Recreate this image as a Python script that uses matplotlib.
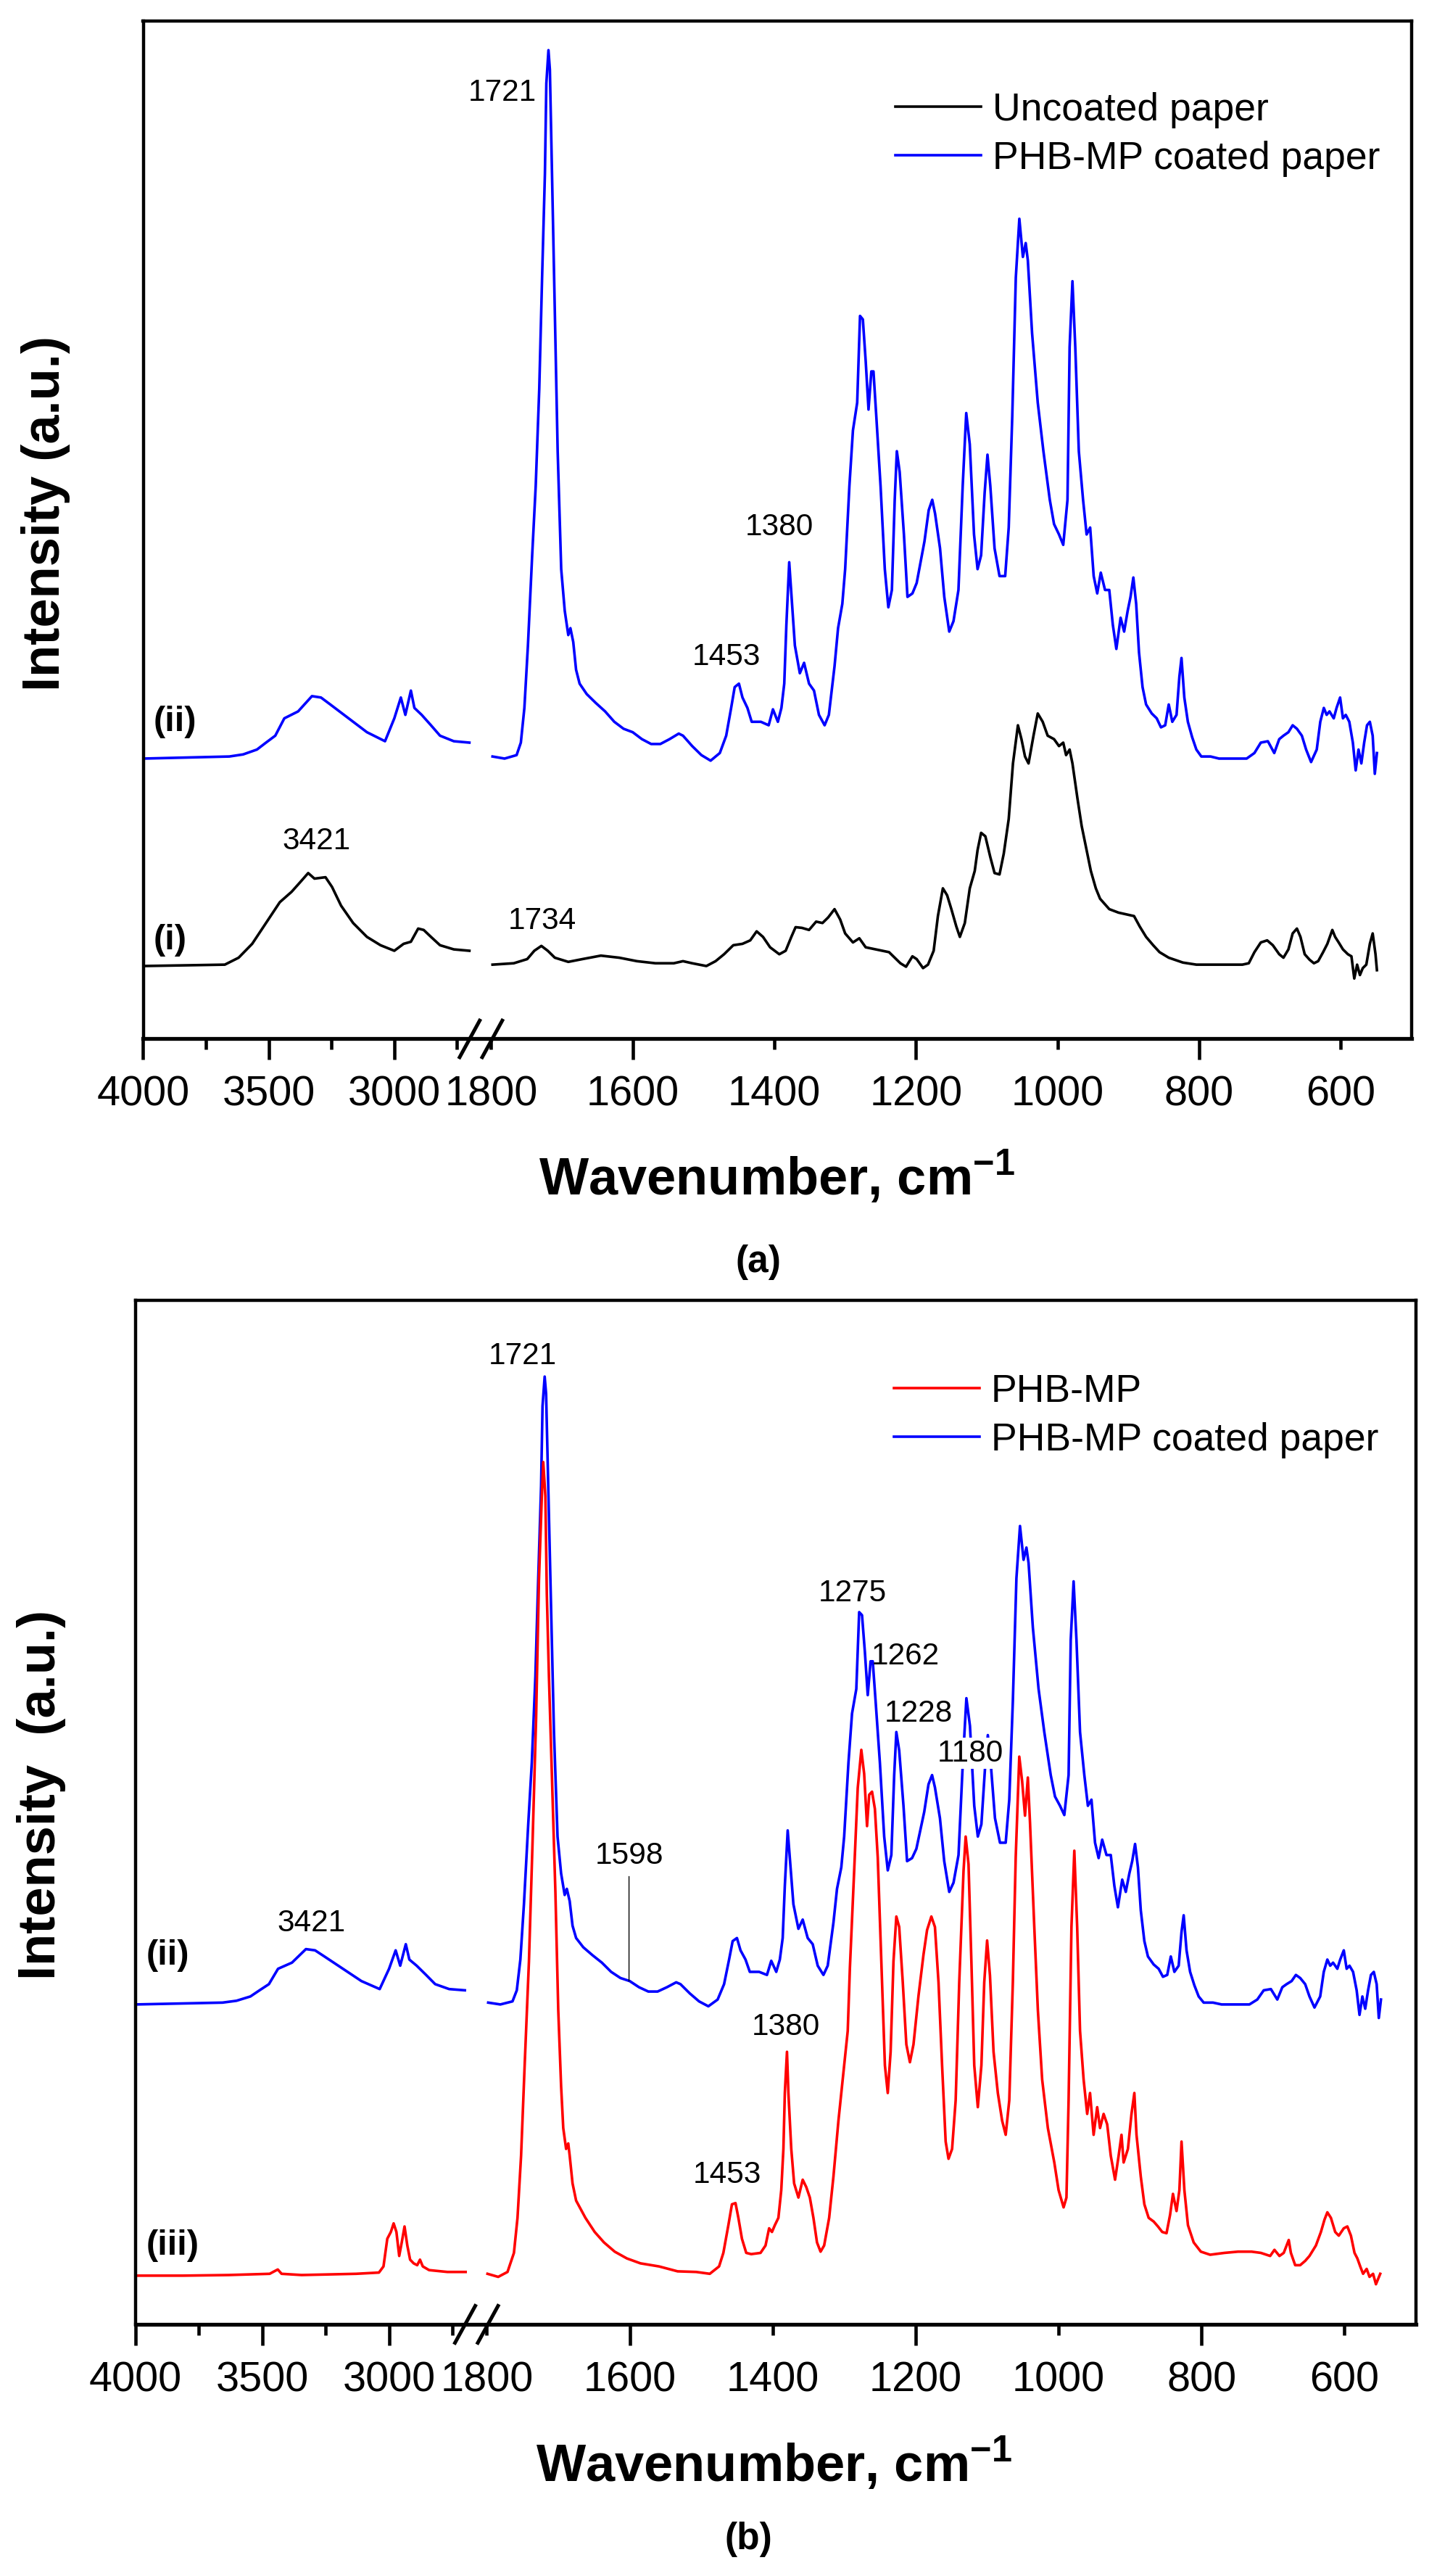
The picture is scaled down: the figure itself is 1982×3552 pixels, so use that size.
import numpy as np
import matplotlib
matplotlib.use('Agg')
import matplotlib.pyplot as plt
from matplotlib.ticker import FixedLocator, FuncFormatter

plt.rcParams['font.family'] = ['Liberation Sans', 'DejaVu Sans']
plt.rcParams['mathtext.fontset'] = 'custom'
plt.rcParams['mathtext.rm'] = 'Liberation Sans'
plt.rcParams['mathtext.bf'] = 'Liberation Sans:bold'

# ---- spectra (wavenumber, cm-1 / intensity, a.u.) ----
# each spectrum is split in two: 4000-2700 region and 1800-550 region

# (i) uncoated paper
uncoated_wn_hi = [4000, 3675, 3620, 3566, 3511, 3456, 3409, 3372, 3343, 3318,
                  3274, 3248, 3212, 3164, 3109, 3055, 3000, 2963, 2934, 2905,
                  2883, 2854, 2818, 2763, 2701]
uncoated_ab_hi = [0.0, 0.2, 1.2, 3.2, 6.2, 9.2, 10.7, 12.2, 13.4, 12.6,
                  12.8, 11.4, 8.7, 6.2, 4.2, 3.0, 2.2, 3.2, 3.5, 5.4,
                  5.2, 4.2, 3.0, 2.4, 2.2]
uncoated_wn_lo = [1798, 1768, 1749, 1739, 1729, 1720, 1710, 1691, 1671, 1645,
                  1619, 1594, 1568, 1542, 1529, 1516, 1496, 1483, 1471, 1458,
                  1445, 1434, 1425, 1416, 1406, 1393, 1384, 1376, 1370, 1361,
                  1351, 1341, 1332, 1324, 1315, 1307, 1300, 1289, 1280, 1271,
                  1257, 1248, 1238, 1230, 1222, 1214, 1205, 1199, 1190, 1183,
                  1175, 1169, 1162, 1156, 1150, 1143, 1138, 1131, 1124, 1117,
                  1113, 1108, 1102, 1095, 1089, 1082, 1076, 1069, 1063, 1056,
                  1051, 1046, 1041, 1034, 1028, 1021, 1014, 1005, 998, 992,
                  988, 983, 979, 972, 966, 959, 953, 946, 940, 927,
                  914, 901, 892, 884, 875, 865, 856, 843, 823, 804,
                  784, 759, 739, 730, 722, 713, 704, 696, 687, 681,
                  674, 668, 662, 657, 651, 644, 638, 632, 625, 619,
                  612, 608, 603, 597, 590, 585, 581, 577, 573, 569,
                  564, 559, 555, 551, 549]
uncoated_ab_lo = [0.2, 0.4, 1.0, 2.2, 2.9, 2.2, 1.2, 0.6, 1.0, 1.5,
                  1.2, 0.7, 0.4, 0.4, 0.7, 0.4, 0.0, 0.7, 1.7, 3.0,
                  3.2, 3.7, 5.0, 4.2, 2.7, 1.7, 2.2, 4.2, 5.6, 5.5,
                  5.2, 6.4, 6.2, 7.0, 8.2, 6.7, 4.7, 3.4, 4.0, 2.7,
                  2.4, 2.2, 2.0, 1.2, 0.4, -0.1, 1.4, 1.0, -0.3, 0.2,
                  2.2, 7.2, 11.2, 10.2, 8.2, 5.7, 4.2, 6.2, 11.2, 13.7,
                  16.7, 19.2, 18.7, 15.7, 13.4, 13.2, 16.2, 21.2, 29.2, 34.7,
                  32.7, 30.2, 29.2, 33.2, 36.4, 35.2, 33.2, 32.7, 31.7, 32.2,
                  30.4, 31.2, 29.2, 24.2, 20.2, 16.7, 13.7, 11.2, 9.7, 8.2,
                  7.7, 7.4, 7.2, 5.7, 4.2, 3.0, 2.0, 1.2, 0.5, 0.2,
                  0.2, 0.2, 0.2, 0.4, 2.0, 3.4, 3.7, 3.0, 1.7, 1.2,
                  2.4, 4.7, 5.4, 4.2, 1.7, 0.9, 0.4, 0.7, 2.0, 3.2,
                  5.2, 4.2, 3.4, 2.4, 1.7, 1.4, -1.8, 0.2, -1.3, -0.3,
                  0.2, 3.2, 4.7, 1.7, -0.6]

# (ii) PHB-MP coated paper
coated_wn_hi = [4000, 3657, 3602, 3547, 3511, 3474, 3438, 3383, 3328, 3292,
                3255, 3182, 3109, 3037, 3000, 2974, 2956, 2934, 2920, 2891,
                2854, 2818, 2763, 2701]
coated_ab_hi = [0.0, 0.3, 0.6, 1.3, 2.3, 3.3, 5.8, 6.8, 9.0, 8.8,
                7.8, 5.8, 3.8, 2.5, 5.8, 8.8, 6.3, 9.8, 7.3, 6.3,
                4.8, 3.3, 2.5, 2.3]
coated_wn_lo = [1798, 1781, 1764, 1758, 1753, 1748, 1742, 1737, 1732, 1728,
                1724, 1722, 1719, 1717, 1714, 1710, 1706, 1701, 1696, 1691,
                1688, 1684, 1680, 1675, 1665, 1652, 1639, 1626, 1613, 1600,
                1587, 1574, 1561, 1548, 1535, 1529, 1516, 1503, 1490, 1477,
                1468, 1461, 1456, 1450, 1445, 1438, 1432, 1419, 1408, 1402,
                1395, 1390, 1386, 1383, 1379, 1375, 1371, 1364, 1358, 1351,
                1344, 1337, 1329, 1323, 1315, 1310, 1304, 1300, 1294, 1289,
                1283, 1279, 1275, 1271, 1267, 1263, 1260, 1256, 1250, 1244,
                1239, 1234, 1230, 1227, 1223, 1217, 1212, 1205, 1199, 1188,
                1182, 1177, 1173, 1166, 1160, 1153, 1147, 1140, 1134, 1129,
                1124, 1118, 1113, 1108, 1103, 1099, 1095, 1089, 1082, 1074,
                1069, 1064, 1059, 1054, 1049, 1045, 1042, 1036, 1028, 1020,
                1011, 1005, 998, 992, 986, 983, 979, 975, 970, 964,
                959, 954, 949, 944, 939, 933, 927, 922, 917, 911,
                906, 901, 897, 893, 889, 885, 880, 875, 867, 860,
                854, 848, 843, 838, 832, 828, 825, 821, 816, 810,
                804, 797, 784, 772, 752, 733, 722, 713, 703, 694,
                687, 681, 674, 668, 662, 655, 649, 642, 634, 629,
                624, 620, 616, 610, 606, 601, 597, 593, 588, 583,
                579, 575, 571, 567, 563, 559, 555, 552, 549]
coated_ab_lo = [0.3, 0.0, 0.5, 2.3, 7.3, 16.3, 29.3, 39.3, 53.3, 69.3,
                84.3, 97.3, 102.1, 99.3, 84.3, 64.3, 44.3, 27.3, 21.3, 17.8,
                18.8, 16.8, 12.8, 10.8, 9.3, 8.0, 6.8, 5.3, 4.3, 3.8,
                2.8, 2.1, 2.1, 2.8, 3.6, 3.3, 1.8, 0.5, -0.3, 0.8,
                3.3, 7.3, 10.3, 10.8, 8.8, 7.3, 5.3, 5.3, 4.8, 7.1,
                5.3, 7.3, 10.8, 19.3, 28.3, 22.3, 16.3, 12.3, 13.8, 10.8,
                9.8, 6.3, 4.8, 6.3, 13.3, 18.8, 22.3, 27.3, 39.3, 47.3,
                51.3, 63.8, 63.3, 57.3, 50.3, 55.8, 55.8, 49.3, 39.3, 27.3,
                21.8, 24.3, 37.3, 44.3, 41.3, 32.3, 23.3, 23.8, 25.3, 31.3,
                35.8, 37.3, 35.3, 30.3, 23.3, 18.3, 19.8, 24.3, 39.3, 49.8,
                45.3, 32.3, 27.3, 29.3, 38.3, 43.8, 39.3, 30.3, 26.3, 26.3,
                33.3, 49.3, 69.3, 77.8, 72.3, 74.3, 71.8, 61.3, 51.3, 44.3,
                37.3, 33.8, 32.3, 30.8, 37.3, 59.3, 68.8, 59.3, 44.3, 37.3,
                32.3, 33.3, 26.3, 23.8, 26.8, 24.3, 24.3, 19.3, 15.8, 20.3,
                18.3, 21.3, 23.3, 26.1, 22.3, 15.3, 10.3, 7.8, 6.5, 5.8,
                4.5, 4.8, 7.8, 5.3, 6.3, 11.8, 14.5, 8.8, 5.3, 3.1,
                1.3, 0.3, 0.3, 0.0, 0.0, 0.0, 0.8, 2.3, 2.5, 0.8,
                2.8, 3.3, 3.8, 4.8, 4.3, 3.3, 1.3, -0.5, 1.3, 5.3,
                7.3, 6.3, 6.8, 5.8, 7.3, 8.8, 5.8, 6.3, 5.3, 2.3,
                -1.7, 1.3, -0.7, 2.3, 4.8, 5.3, 3.3, -2.2, 0.8]

# (iii) PHB-MP
phb_wn_hi = [4000, 3813, 3633, 3471, 3453, 3439, 3424, 3345, 3237, 3130,
             3040, 3022, 3007, 2993, 2982, 2971, 2960, 2950, 2939, 2928,
             2917, 2903, 2889, 2878, 2867, 2842, 2770, 2698]
phb_ab_hi = [0.0, 0.0, 0.1, 0.3, 0.7, 1.0, 0.3, 0.1, 0.2, 0.3,
             0.5, 1.5, 6.0, 7.1, 8.5, 7.1, 3.2, 5.4, 8.0, 4.9,
             2.6, 2.0, 1.7, 2.6, 1.5, 0.9, 0.6, 0.6]
phb_wn_lo = [1799, 1784, 1771, 1762, 1757, 1752, 1747, 1741, 1736, 1731,
             1727, 1723, 1721, 1718, 1716, 1713, 1709, 1704, 1700, 1696,
             1693, 1689, 1686, 1684, 1680, 1675, 1662, 1649, 1636, 1621,
             1604, 1585, 1559, 1533, 1507, 1488, 1475, 1469, 1462, 1457,
             1452, 1448, 1443, 1437, 1430, 1417, 1410, 1405, 1401, 1397,
             1392, 1388, 1385, 1383, 1380, 1378, 1374, 1370, 1364, 1358,
             1353, 1348, 1343, 1338, 1333, 1328, 1321, 1315, 1308, 1302,
             1295, 1292, 1286, 1281, 1276, 1272, 1268, 1265, 1261, 1257,
             1253, 1248, 1243, 1239, 1235, 1231, 1227, 1223, 1218, 1213,
             1208, 1203, 1196, 1189, 1184, 1178, 1173, 1168, 1163, 1158,
             1154, 1149, 1144, 1139, 1133, 1130, 1126, 1122, 1118, 1113,
             1108, 1104, 1100, 1096, 1091, 1085, 1079, 1074, 1069, 1064,
             1060, 1055, 1051, 1047, 1043, 1040, 1034, 1029, 1023, 1015,
             1006, 1000, 993, 989, 986, 982, 978, 974, 970, 965,
             960, 956, 951, 946, 942, 937, 932, 927, 921, 916,
             912, 909, 903, 898, 894, 891, 885, 880, 874, 867,
             861, 855, 849, 844, 840, 835, 831, 828, 824, 819,
             811, 801, 788, 768, 749, 730, 717, 704, 698, 691,
             685, 678, 675, 669, 662, 655, 649, 640, 633, 628,
             624, 619, 613, 608, 601, 596, 591, 586, 582, 578,
             574, 569, 565, 560, 556, 550]
phb_ab_lo = [0.3, -0.2, 0.6, 3.7, 9.4, 19.5, 34.2, 51.1, 70.3, 90.6,
             113.1, 126.7, 132.3, 126.7, 110.9, 97.3, 81.6, 62.4, 43.2, 30.8,
             24.0, 20.6, 21.5, 19.5, 15.0, 12.2, 9.4, 7.1, 5.4, 3.9,
             2.8, 2.0, 1.5, 0.7, 0.6, 0.3, 1.5, 3.7, 8.2, 11.6,
             11.8, 9.4, 6.0, 3.7, 3.5, 3.7, 4.9, 7.7, 7.1, 8.2,
             9.4, 13.9, 20.6, 29.7, 36.4, 29.7, 20.6, 15.0, 12.7, 15.6,
             14.4, 12.7, 9.4, 5.4, 3.9, 4.9, 9.4, 16.1, 25.2, 31.9,
             39.8, 50.0, 65.8, 79.3, 85.5, 81.6, 73.1, 78.2, 78.7, 75.9,
             68.0, 51.1, 34.2, 29.7, 36.4, 51.1, 58.4, 56.7, 47.7, 37.6,
             34.7, 37.6, 45.5, 52.2, 56.2, 58.4, 56.7, 47.7, 34.2, 21.8,
             19.0, 20.6, 28.5, 47.7, 65.8, 71.4, 66.9, 51.1, 34.2, 27.4,
             34.2, 47.7, 54.5, 48.8, 36.4, 29.7, 25.2, 22.9, 28.5, 47.7,
             68.0, 84.4, 80.4, 74.8, 81.0, 73.7, 56.7, 43.2, 31.9, 24.0,
             18.4, 13.9, 11.1, 12.7, 28.5, 56.7, 69.1, 56.7, 39.8, 31.9,
             26.3, 29.7, 22.9, 27.4, 24.0, 26.3, 24.6, 19.5, 15.6, 19.5,
             22.9, 18.4, 20.6, 26.3, 29.7, 22.9, 16.1, 11.6, 9.4, 8.8,
             8.0, 7.1, 6.9, 9.9, 13.3, 10.5, 13.9, 21.8, 13.9, 8.2,
             5.4, 3.9, 3.4, 3.7, 3.9, 3.9, 3.7, 3.2, 4.2, 3.2,
             3.7, 5.8, 3.7, 1.7, 1.7, 2.4, 3.2, 4.9, 7.1, 9.1,
             10.3, 9.4, 7.1, 6.5, 7.7, 8.0, 6.5, 3.7, 2.8, 1.5,
             0.3, 1.1, -0.2, 0.3, -1.4, 0.3]

# axis ticks
major_ticks = [4000, 3500, 3000, 1600, 1200, 800]
minor_ticks = [3750, 3250, 2750, 1800, 1400, 1000, 600]
labelled_minor = [1800, 1400, 1000, 600]

# peak labels (text, wavenumber, intensity)
labels_a = [('1721', 1784, 125.9), ('1380', 1393, 63.2), ('1453', 1468, 44.5),
            ('3421', 3309, 17.95), ('1734', 1728, 6.45)]
labels_b = [('1721', 1750, 149.5), ('1275', 1288, 110.9), ('1262', 1214, 100.7),
            ('1228', 1196, 91.4), ('3421', 3305, 57.3),
            ('1380', 1382, 40.4), ('1453', 1464, 16.4)]

W, H = 1982, 3552
LW = 2.6

# broken wavenumber axis: 1800-500 and 2616-4000 share one axes
BREAK_WN = [500, 1800, 2616, 4000]
BREAK_POS = [0, 1270, 1270.5, 1750]


def fwd(wn):
    return np.interp(wn, BREAK_WN, BREAK_POS)


def inv(u):
    return np.interp(u, BREAK_POS, BREAK_WN)


def fxy(px, py):
    return px / W, 1 - py / H


def draw_break(ax):
    xb = (fwd(4000.0) - fwd(1800.0)) / (fwd(4000.0) - fwd(500.0))
    for cx in (xb - 0.0169, xb + 0.0009):
        ax.plot([cx - 0.0086, cx + 0.0086], [-0.0196, 0.0196], transform=ax.transAxes,
                color='k', lw=3.6, clip_on=False, solid_capstyle='butt', zorder=5)


def setup_axes(ax, ylim):
    ax.set_xscale('function', functions=(fwd, inv))
    ax.set_xlim(4000, 500)
    ax.set_ylim(*ylim)
    ax.xaxis.set_major_locator(FixedLocator(major_ticks))
    ax.xaxis.set_minor_locator(FixedLocator(minor_ticks))
    ax.xaxis.set_major_formatter(FuncFormatter(lambda v, p: f'{v:.0f}'))
    ax.xaxis.set_minor_formatter(FuncFormatter(
        lambda v, p: f'{v:.0f}' if int(round(v)) in labelled_minor else ''))
    ax.tick_params(axis='x', which='major', direction='out', length=21, width=3.3,
                   pad=15, labelsize=41.5, top=False)
    ax.tick_params(axis='x', which='minor', direction='out', length=11, width=3.3,
                   pad=25, labelsize=41.5, top=False)
    ax.tick_params(axis='y', left=False, right=False, labelleft=False)
    for s in ax.spines.values():
        s.set_linewidth(3.2)
    ax.spines['bottom'].set_linewidth(3.8)
    draw_break(ax)


def plot_spectrum(ax, segments, offset, color, label):
    line = None
    for wn, ab in segments:
        line, = ax.plot(wn, np.array(ab) + offset, color=color, lw=LW)
    line.set_label(label)
    return line


fig = plt.figure(figsize=(W / 100, H / 100), dpi=100)

# ---------------- panel (a) ----------------
ax1 = fig.add_axes([197.5 / W, 1 - 1432.5 / H, 1749.5 / W, 1403.5 / H])
setup_axes(ax1, (-10.5, 136.2))
h1 = plot_spectrum(ax1, [(uncoated_wn_hi, uncoated_ab_hi), (uncoated_wn_lo, uncoated_ab_lo)],
                   0.0, 'black', 'Uncoated paper')
h2 = plot_spectrum(ax1, [(coated_wn_hi, coated_ab_hi), (coated_wn_lo, coated_ab_lo)],
                   29.9, '#0000FF', 'PHB-MP coated paper')
for txt, x, y in labels_a:
    ax1.text(x, y, txt, fontsize=30.5, ha='center', va='center')
ax1.text(3958, 35.2, '(ii)', fontsize=35, fontweight='bold', ha='left', va='center')
ax1.text(3958, 3.7, '(i)', fontsize=35, fontweight='bold', ha='left', va='center')
ax1.legend(handles=[h1, h2], loc='upper left', bbox_to_anchor=fxy(1235, 127),
           bbox_transform=fig.transFigure, frameon=False, fontsize=38.5,
           handlelength=2.2, handletextpad=0.3, labelspacing=0.32,
           borderpad=0, borderaxespad=0)

fig.text(*fxy(63, 708), 'Intensity (a.u.)', rotation=90, ha='center', va='center',
         fontsize=52, fontweight='bold')
fig.text(*fxy(1072, 1648), r'Wavenumber, cm$^{\mathregular{-1}}$', ha='center',
         va='baseline', fontsize=52, fontweight='bold')
fig.text(*fxy(1046, 1740), '(a)', ha='center', va='center', fontsize=37, fontweight='bold')

# ---------------- panel (b) ----------------
ax2 = fig.add_axes([187 / W, 1 - 3205 / H, 1766 / W, 1412 / H])
setup_axes(ax2, (-7.92, 158.6))
h3 = plot_spectrum(ax2, [(coated_wn_hi, coated_ab_hi), (coated_wn_lo, coated_ab_lo)],
                   44.1, '#0000FF', 'PHB-MP coated paper')
h4 = plot_spectrum(ax2, [(phb_wn_hi, phb_ab_hi), (phb_wn_lo, phb_ab_lo)],
                   0.0, '#FF0000', 'PHB-MP')
for txt, x, y in labels_b:
    ax2.text(x, y, txt, fontsize=30.5, ha='center', va='center')
ax2.text(1123, 84.95, '1180', fontsize=30.5, ha='center', va='center',
         bbox=dict(facecolor='white', edgecolor='none', pad=1))
ax2.annotate('1598', xy=(1601, 44.1 + 3.8), xytext=(1601, 68.25), fontsize=30.5,
             ha='center', va='center',
             arrowprops=dict(arrowstyle='-', color='black', lw=1.0, shrinkA=4, shrinkB=0))
ax2.text(3957, 52.0, '(ii)', fontsize=35, fontweight='bold', ha='left', va='center')
ax2.text(3957, 4.85, '(iii)', fontsize=35, fontweight='bold', ha='left', va='center')
ax2.legend(handles=[h4, h3], loc='upper left', bbox_to_anchor=fxy(1233, 1894),
           bbox_transform=fig.transFigure, frameon=False, fontsize=38.5,
           handlelength=2.2, handletextpad=0.3, labelspacing=0.32,
           borderpad=0, borderaxespad=0)

fig.text(*fxy(57, 2475), 'Intensity  (a.u.)', rotation=90, ha='center', va='center',
         fontsize=52, fontweight='bold')
fig.text(*fxy(1068, 3422), r'Wavenumber, cm$^{\mathregular{-1}}$', ha='center',
         va='baseline', fontsize=52, fontweight='bold')
fig.text(*fxy(1032, 3501), '(b)', ha='center', va='center', fontsize=37, fontweight='bold')

fig.savefig('out.png', dpi=100)
